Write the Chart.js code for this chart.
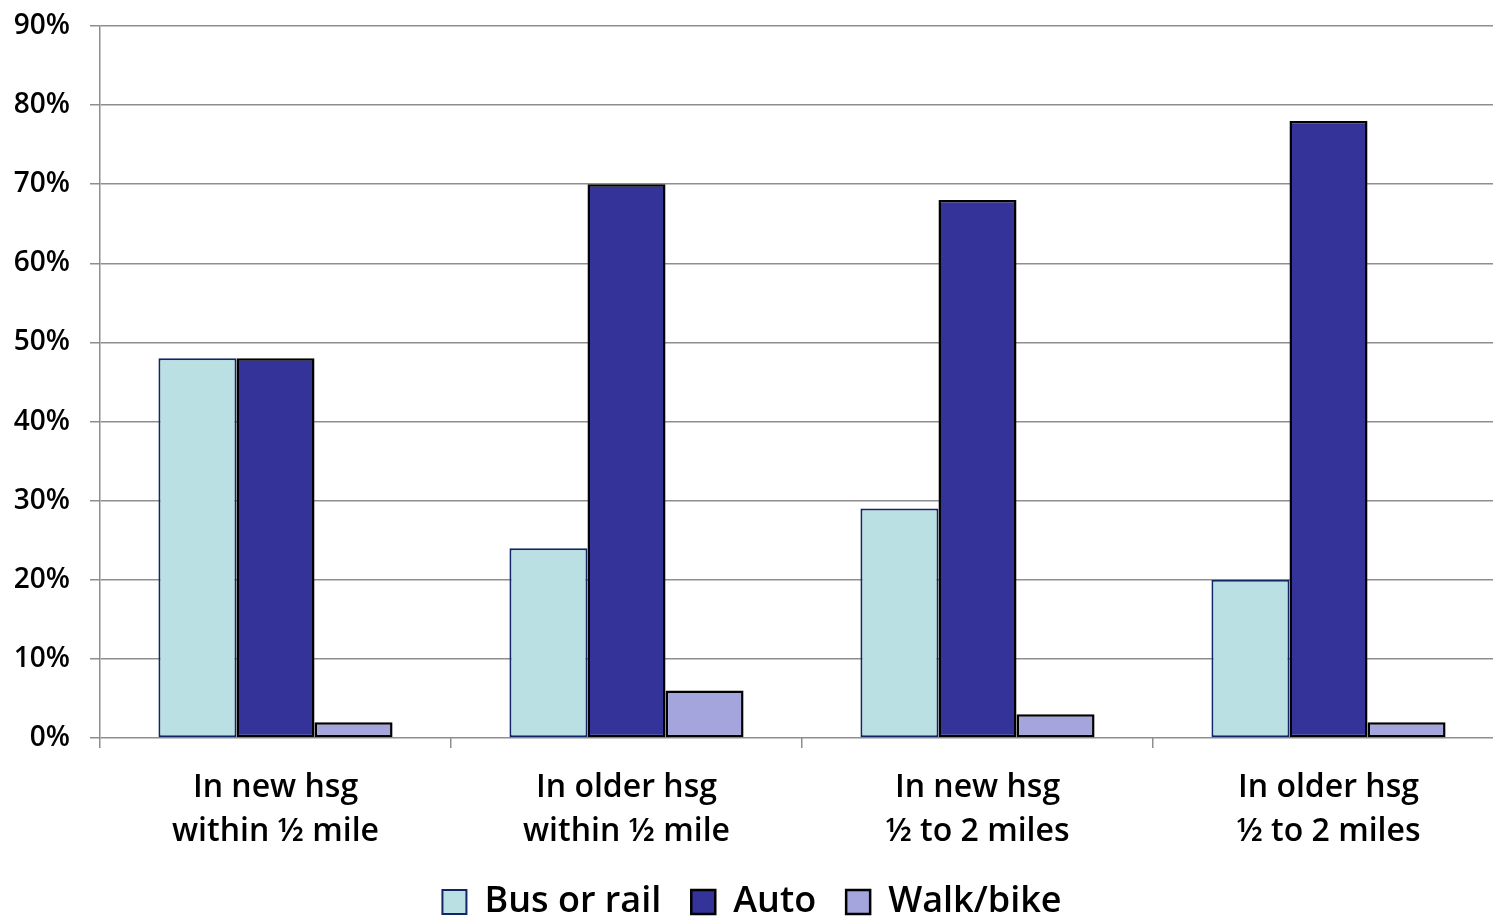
<!DOCTYPE html>
<html>
<head>
<meta charset="utf-8">
<script src="https://cdn.jsdelivr.net/npm/chart.js@4/dist/chart.umd.min.js"></script>
<style>
  html, body { margin: 0; padding: 0; background: #fff; overflow: hidden; }
  #wrap { width: 1504px; height: 930px; }
</style>
</head>
<body>
<div id="wrap"><canvas id="c" width="1504" height="930"></canvas></div>
<script>
// Commute mode shares by housing age and distance to transit
const categories = [
  ['In new hsg', 'within \u00BD mile'],
  ['In older hsg', 'within \u00BD mile'],
  ['In new hsg', '\u00BD to 2 miles'],
  ['In older hsg', '\u00BD to 2 miles']
];
const busOrRail = [48, 24, 29, 20];
const auto = [48, 70, 68, 78];
const walkBike = [2, 6, 3, 2];
const seriesNames = ['Bus or rail', 'Auto', 'Walk/bike'];

const gridGray = '#8e8e8e';

new Chart(document.getElementById('c'), {
  type: 'bar',
  data: {
    labels: categories,
    datasets: [
      { label: seriesNames[0], data: busOrRail, backgroundColor: '#bbe0e3', borderColor: '#0f2766', borderWidth: 2 },
      { label: seriesNames[1], data: auto, backgroundColor: '#333399', borderColor: '#000000', borderWidth: 2.5 },
      { label: seriesNames[2], data: walkBike, backgroundColor: '#a5a5de', borderColor: '#000000', borderWidth: 2.5 }
    ]
  },
  options: {
    responsive: false,
    animation: false,
    events: [],
    layout: { padding: { top: 26, left: 0, right: 0, bottom: 0 } },
    datasets: { bar: { categoryPercentage: 0.667, barPercentage: 1.0, borderSkipped: false } },
    plugins: {
      tooltip: { enabled: false },
      legend: {
        position: 'bottom',
        labels: {
          boxWidth: 24,
          boxHeight: 24,
          padding: 30,
          color: '#000',
          font: { family: '"Open Sans"', size: 36, weight: 600 }
        }
      }
    },
    scales: {
      x: {
        grid: { drawOnChartArea: false, drawTicks: true, tickLength: 10, color: gridGray, lineWidth: 1.5, offset: true },
        border: { display: false },
        ticks: {
          color: '#000',
          padding: 17,
          maxRotation: 0,
          font: { family: '"Open Sans"', size: 32, weight: 600, lineHeight: 1.4 }
        },
        afterFit: (s) => { s.height = 116; s.paddingLeft = 0; s.paddingRight = 0; }
      },
      y: {
        min: 0,
        max: 90,
        grid: { color: gridGray, lineWidth: 1.5, tickLength: 10 },
        border: { display: true, color: gridGray, width: 1.5 },
        ticks: {
          stepSize: 10,
          color: '#000',
          padding: 20,
          font: { family: '"Open Sans"', size: 28, weight: 600 },
          callback: (v) => v + '%'
        },
        afterFit: (s) => { s.width = 100; s.paddingTop = 0; s.paddingBottom = 0; }
      }
    }
  }
});
</script>
</body>
</html>
